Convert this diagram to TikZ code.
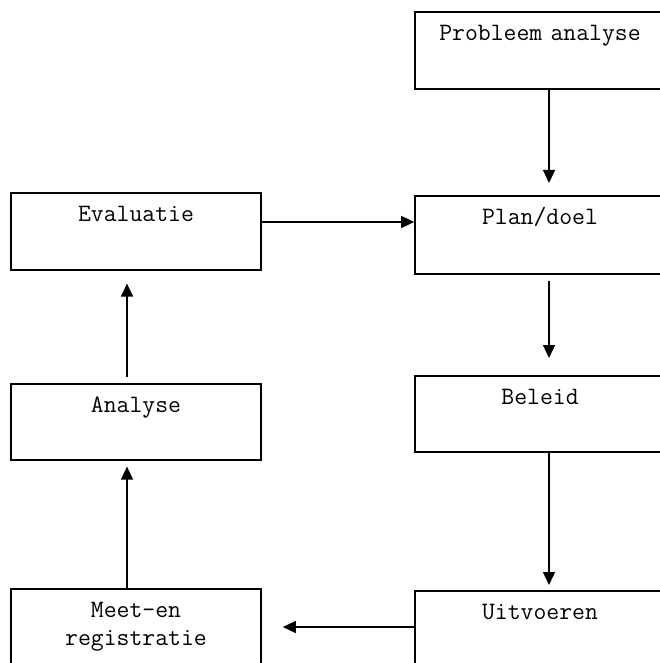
\documentclass[tikz,border=0pt]{standalone}
\usetikzlibrary{arrows.meta}
\begin{document}
\begin{tikzpicture}[x=1pt,y=-1pt,
  box/.style={draw,line width=1.6pt,anchor=north,inner sep=0pt,text width=250pt,align=center,
    font=\ttfamily\fontsize{25}{28}\selectfont,text height=29pt,text depth=#1},
  box/.default=48pt,
  arr/.style={line width=1.3pt,-{Triangle[length=13pt,width=12pt]}}]
\clip (0,0) rectangle (660,663);
% right column
\node[box=48pt] (pa) at (540,11) {Probleem analyse};
\node[box=49pt] (plan) at (540,195) {Plan/doel};
\node[box=47pt] (beleid) at (540,375) {Beleid};
\node[box=100pt] (uit) at (540,590) {Uitvoeren};
% left column
\node[box=48pt] (eval) at (136,192) {Evaluatie};
\node[box=47pt] (ana) at (136,383) {Analyse};
\node[box=100pt] (meet) at (136,588) {Meet-en\\registratie};
% connectors
\draw[arr,shorten >=12pt] ([xshift=9pt]pa.south) -- ([xshift=9pt]plan.north);
\draw[arr,shorten <=6pt,shorten >=17pt] ([xshift=9pt]plan.south) -- ([xshift=9pt]beleid.north);
\draw[arr,shorten >=5pt] ([xshift=9pt]beleid.south) -- ([xshift=9pt]uit.north);
\draw[arr,shorten >=21pt] ([yshift=-37pt]uit.north west) -- ([yshift=-39pt]meet.north east);
\draw[arr,shorten >=6pt] ([xshift=-9pt]meet.north) -- ([xshift=-9pt]ana.south);
\draw[arr,shorten <=6pt,shorten >=13pt] ([xshift=-9pt]ana.north) -- ([xshift=-9pt]eval.south);
\draw[arr] ([yshift=-30pt]eval.north east) -- ([yshift=-27pt]plan.north west);
\end{tikzpicture}
\end{document}
